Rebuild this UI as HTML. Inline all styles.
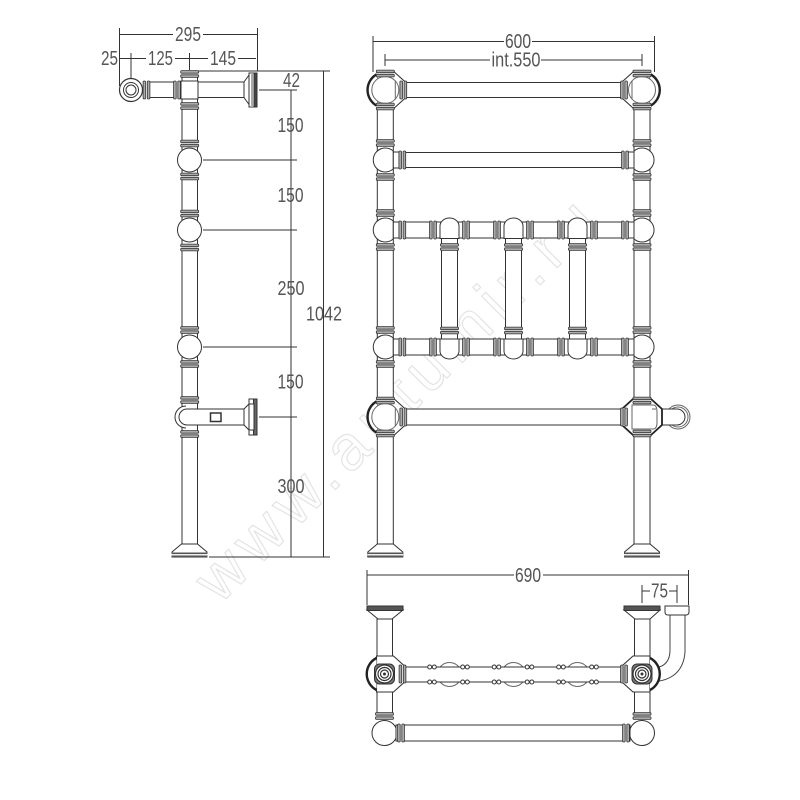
<!DOCTYPE html>
<html><head><meta charset="utf-8"><style>
html,body{margin:0;padding:0;background:#fff}
svg{display:block}
text{font-family:"Liberation Sans",sans-serif;font-size:20px;fill:#555;text-anchor:start}
</style></head><body>
<svg width="800" height="800" viewBox="0 0 800 800" xmlns="http://www.w3.org/2000/svg">
<defs>
<g id="vc"><rect x="-9" y="-3.400" width="18" height="6.800" fill="#fff" stroke="none"/><rect x="-9" y="-3.400" width="18" height="2.600" rx="1" fill="#aaa" stroke="#333" stroke-width=".8"/><rect x="-9" y=".8" width="18" height="2.600" rx="1" fill="#aaa" stroke="#333" stroke-width=".8"/></g>
<g id="hc"><rect x="-3.400" y="-9" width="6.800" height="18" fill="#fff" stroke="none"/><rect x="-3.400" y="-9" width="2.600" height="18" rx="1" fill="#aaa" stroke="#333" stroke-width=".8"/><rect x=".8" y="-9" width="2.600" height="18" rx="1" fill="#aaa" stroke="#333" stroke-width=".8"/></g>
<g id="node">
<path d="M-8 -18H9L20 -8V8L9 18H-8Z" fill="#fff" stroke="#333" stroke-width="1.100"/>
<path d="M-8 -16A18 18 0 0 0 -8 16" fill="#fff" stroke="#222" stroke-width="2.400"/>
<circle r="13.500" fill="#fff" stroke="#666" stroke-width="1"/>
<path d="M10 -9.500V9.500" stroke="#666"/>
<use href="#hc" x="18"/>
<use href="#vc" y="-16.500"/><use href="#vc" y="16.500"/>
</g>
<g id="node5">
<path d="M-9 -18H9L20 -8V8L9 18H-9L-20 8V-8Z" fill="#fff" stroke="#222" stroke-width="1.800"/>
<path d="M-14 -8H-10A0 0 0 0 1 -10 -8M-11 -12H10V12H-11Q-15 12 -15 5V-5Q-15 -12 -11 -12Z" fill="#fff" stroke="#666" stroke-width="1"/>
<use href="#hc" x="18"/>
<use href="#vc" y="-16.500"/><use href="#vc" y="16.500"/>
</g>
<g id="ball">
<path d="M8 -8.900A12 12 0 1 0 8 8.900Z" fill="#fff" stroke="#333"/>
<rect x="8" y="-8" width="7" height="16" fill="#fff" stroke="#333"/>
<use href="#vc" y="-17"/><use href="#vc" y="17"/>
<use href="#hc" x="17"/>
</g>
<g id="base"><path d="M-8 -13H8L17.500 -5V0H-17.500V-5Z" fill="#fff" stroke="#333"/><rect x="-18" y="-4.500" width="36" height="4.500" fill="#555" stroke="none"/><rect x="-18" y="-3" width="36" height="1.500" fill="#eee" stroke="none"/></g>
<g id="cnode">
<path d="M-8 -18H9L20 -8V8L9 18H-8Z" fill="#fff" stroke="#333" stroke-width="1.100"/>
<path d="M-8 -16A18 18 0 0 0 -8 16" fill="#fff" stroke="#222" stroke-width="2.400"/>
<rect x="-10" y="-10" width="20" height="20" rx="5" fill="#777" stroke="#333"/>
<circle r="9" fill="#fff" stroke="#333" stroke-width="1.200"/><circle r="6.500" fill="#fff" stroke="#333" stroke-width="1.200"/><circle r="4" fill="#fff" stroke="#333" stroke-width="1.200"/><circle r="1.500" fill="#333" stroke="none"/>
<use href="#hc" x="18"/>
</g>
<g id="tball">
<path d="M-9.500 8.500V-4A9.500 8 0 0 1 9.500 -4V8.500Z" fill="#fff" stroke="#333"/>
<use href="#hc" x="-16.500"/><use href="#hc" x="16.500"/>
<use href="#vc" y="17"/>
</g>
<g id="tball2">
<path d="M-9.500 -8V4A9.500 8 0 0 0 9.500 4V-8Z" fill="#fff" stroke="#333"/>
<use href="#hc" x="-16.500"/><use href="#hc" x="16.500"/>
<use href="#vc" y="-16.500"/>
</g>
<g id="studs"><circle cx="-2.300" r="2" fill="#fff" stroke="#333"/><circle cx="2.300" r="2" fill="#fff" stroke="#333"/></g>
</defs>

<!-- watermark -->
<text x="220" y="605" transform="rotate(-45 220 605)" textLength="537" lengthAdjust="spacing" style="font-size:63px;fill:#fff;stroke:#e4e4e4;stroke-width:1.200">www.autumir.ru</text>

<g fill="none" stroke="#333" stroke-width="1">
<!-- SIDE VIEW dims -->
<path d="M119.500 34.500H173M203 34.500H257.500M119.500 28V86M257.500 28V71"/>
<path d="M119 58.500H146M175 58.500H208M238 58.500H256M131 53V78M189.500 53V70"/>
<path d="M198 71H330M259 90H297M291 90V557"/>
<path d="M323.500 71V557M209 557H330"/>
<path d="M203 160H297M203 230H297M203 347H297M259 417H297"/>

<!-- SIDE VIEW post -->
<rect x="182" y="71" width="15.500" height="474" fill="#fff"/>
<rect x="148" y="82" width="98" height="15.500" fill="#fff"/>
<circle cx="131" cy="90" r="11.500" fill="#fff" stroke-width="1.200"/><circle cx="131" cy="90" r="7.500"/><circle cx="131" cy="90" r="5"/>
<use href="#hc" x="146.500" y="90"/>
<use href="#hc" x="177" y="90"/>
<rect x="181" y="81" width="17" height="18" fill="#fff"/>
<use href="#vc" x="189.700" y="74"/><use href="#vc" x="189.700" y="106"/>
<path d="M244 82L249 75V104.500L244 97.500Z" fill="#fff"/>
<rect x="249" y="73" width="8" height="34" fill="#fff"/>
<rect x="254" y="73" width="3" height="34" fill="#444"/><rect x="251" y="73" width="2" height="34" fill="#aaa" stroke="none"/>
<ellipse cx="189.500" cy="160" rx="12" ry="12" fill="#fff"/>
<ellipse cx="189.500" cy="230" rx="12" ry="12" fill="#fff"/>
<ellipse cx="189.500" cy="347" rx="12" ry="12" fill="#fff"/>
<use href="#vc" x="189.700" y="143.500"/><use href="#vc" x="189.700" y="176.500"/>
<use href="#vc" x="189.700" y="213.500"/><use href="#vc" x="189.700" y="247.500"/>
<use href="#vc" x="189.700" y="330"/><use href="#vc" x="189.700" y="364"/>
<use href="#vc" x="189.700" y="400"/><use href="#vc" x="189.700" y="434"/>
<path d="M186 406A11 11 0 0 0 186 428" fill="#fff"/>
<path d="M246 409H187A8 8 0 0 0 187 425H246Z" fill="#fff"/>
<rect x="210.500" y="413" width="10.500" height="8.500" fill="#fff" stroke-width="1.500"/>
<path d="M244 409L250 403V431L244 425Z" fill="#fff"/>
<rect x="249" y="399" width="8" height="36" fill="#fff"/>
<rect x="253.500" y="399" width="3.500" height="36" fill="#666"/>
<rect x="249" y="404" width="5" height="26" fill="#fff"/>
<use href="#base" x="189.500" y="557"/>

<!-- FRONT dims -->
<path d="M373 41.500H504M532 41.500H654.500M373 36V72M654.500 36V72"/>
<path d="M385 60H490M541 60H642M385 54V66M642 54V66"/>

<!-- FRONT posts -->
<rect x="377.300" y="100" width="16" height="445" fill="#fff"/>
<rect x="634" y="100" width="16" height="445" fill="#fff"/>
<use href="#base" x="385.300" y="557"/><use href="#base" x="642" y="557"/>

<!-- rails -->
<rect x="405" y="82.500" width="218" height="15" fill="#fff"/>
<rect x="405" y="152.500" width="218" height="15" fill="#fff"/>
<rect x="400" y="222" width="228" height="16" fill="#fff"/>
<rect x="400" y="339" width="228" height="16" fill="#fff"/>
<rect x="405" y="409" width="218" height="16" fill="#fff"/>

<!-- vertical bars -->
<rect x="441.500" y="236" width="16" height="104" fill="#fff"/>
<rect x="505.500" y="236" width="16" height="104" fill="#fff"/>
<rect x="569.500" y="236" width="16" height="104" fill="#fff"/>
<use href="#tball" x="449.500" y="230"/><use href="#tball" x="513.500" y="230"/><use href="#tball" x="577.500" y="230"/>
<use href="#tball2" x="449.500" y="347"/><use href="#tball2" x="513.500" y="347"/><use href="#tball2" x="577.500" y="347"/>

<!-- side balls -->
<use href="#ball" x="385.300" y="160"/>
<use href="#ball" x="385.300" y="230"/>
<use href="#ball" x="385.300" y="347"/>
<g transform="translate(642 0) scale(-1 1)">
<use href="#ball" y="160"/>
<use href="#ball" y="230"/>
<use href="#ball" y="347"/>
</g>

<!-- corner nodes -->
<use href="#node" x="385.300" y="90"/>
<g transform="translate(642 90) scale(-1 1)"><use href="#node"/></g>
<use href="#node" x="385.300" y="417"/>
<circle cx="678" cy="417" r="12" fill="#fff" stroke="#666"/><circle cx="678" cy="417" r="10" stroke="#666"/>
<path d="M655 409H677A8 8 0 0 1 677 425H655Z" fill="#fff"/>
<g transform="translate(642 417) scale(-1 1)"><use href="#node5"/></g>

<!-- BOTTOM dims -->
<path d="M367 575H514M543 575H688.500M367 570V605M688.500 570V605"/>
<path d="M642 591H650M669 591H677M642 585V603M677 585V603"/>

<!-- BOTTOM post -->
<rect x="377" y="619" width="15.500" height="95" fill="#fff"/>
<rect x="634.500" y="619" width="15.500" height="95" fill="#fff"/>
<path d="M367 610H403L392 619H378Z" fill="#fff"/>
<path d="M624 610H660L650 619H635Z" fill="#fff"/>
<rect x="367" y="606" width="36" height="4.500" fill="#555"/>
<rect x="624" y="606" width="36" height="4.500" fill="#555"/>
<path d="M670 615V650Q670 666 655 668M685 615V652Q683 680 652 682" stroke="#444"/>
<path d="M665 606H689V612Q689 615 686 615H668Q665 615 665 612Z" fill="#fff"/>
<circle cx="449.500" cy="674.500" r="12" stroke="#666"/><circle cx="513.500" cy="674.500" r="12" stroke="#666"/><circle cx="577.500" cy="674.500" r="12" stroke="#666"/>
<rect x="400" y="667" width="228" height="15" fill="#fff"/>
<use href="#studs" x="432" y="667"/><use href="#studs" x="432" y="682"/>
<use href="#studs" x="465" y="667"/><use href="#studs" x="465" y="682"/>
<use href="#studs" x="496.500" y="667"/><use href="#studs" x="496.500" y="682"/>
<use href="#studs" x="529.500" y="667"/><use href="#studs" x="529.500" y="682"/>
<use href="#studs" x="561" y="667"/><use href="#studs" x="561" y="682"/>
<use href="#studs" x="594" y="667"/><use href="#studs" x="594" y="682"/>
<use href="#cnode" x="384.500" y="674"/>
<g transform="translate(642 674) scale(-1 1)"><use href="#cnode"/></g>
<circle cx="384.500" cy="733" r="12.500" fill="#fff"/>
<circle cx="642" cy="733" r="12.500" fill="#fff"/>
<use href="#vc" x="384.500" y="716"/><use href="#vc" x="642" y="716"/>
<rect x="396" y="725" width="234" height="16" fill="#fff"/>
<use href="#hc" x="401" y="733"/><use href="#hc" x="626" y="733"/>
</g>

<!-- labels -->
<text x="175" y="41" textLength="26" lengthAdjust="spacingAndGlyphs">295</text>
<text x="101" y="65" textLength="17" lengthAdjust="spacingAndGlyphs">25</text>
<text x="148" y="65" textLength="25" lengthAdjust="spacingAndGlyphs">125</text>
<text x="210" y="65" textLength="26" lengthAdjust="spacingAndGlyphs">145</text>
<text x="283" y="87" textLength="17" lengthAdjust="spacingAndGlyphs">42</text>
<text x="277.500" y="132" textLength="26" lengthAdjust="spacingAndGlyphs">150</text>
<text x="277.500" y="202" textLength="26" lengthAdjust="spacingAndGlyphs">150</text>
<text x="277.500" y="295" textLength="27" lengthAdjust="spacingAndGlyphs">250</text>
<text x="277.500" y="388.500" textLength="26" lengthAdjust="spacingAndGlyphs">150</text>
<text x="277.500" y="493" textLength="27" lengthAdjust="spacingAndGlyphs">300</text>
<text x="306" y="320.500" textLength="36" lengthAdjust="spacingAndGlyphs">1042</text>
<text x="505" y="48" textLength="26" lengthAdjust="spacingAndGlyphs">600</text>
<text x="491.500" y="66.500" textLength="49" lengthAdjust="spacingAndGlyphs">int.550</text>
<text x="515" y="582" textLength="26" lengthAdjust="spacingAndGlyphs">690</text>
<text x="651" y="597.500" textLength="17" lengthAdjust="spacingAndGlyphs">75</text>
</svg>
</body></html>
